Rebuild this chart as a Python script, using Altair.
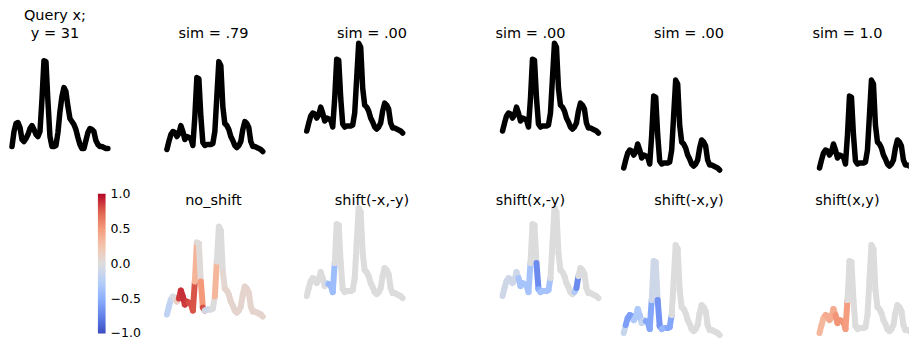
import altair as alt
import pandas as pd
import numpy as np

# ---- data ----
query = [5, 20, 28, 29, 24, 12, 10, 13, 17, 23, 26, 22, 17, 15, 20, 52, 91, 90, 50, 15,
         5, 5, 6, 19, 40, 55, 64, 60, 45, 33, 30, 27, 22, 14, 7, 3, 3, 11, 19, 23,
         22, 20, 11, 7, 5, 5, 4, 3, 3]
sample = [2, 10, 17, 20, 19, 15, 18, 26, 20, 12, 15, 14, 13, 6, 35, 74, 73, 35, 9, 6,
          7, 7, 7, 8, 20, 55, 90, 86, 45, 28, 26, 22, 15, 11, 6, 4, 6, 10, 22, 30,
          28, 24, 10, 5, 5, 4, 3, 2, 0]

top_titles = [["Query x;", "y = 31"], "sim = .79", "sim = .00", "sim = .00", "sim = .00", "sim = 1.0"]
bottom_titles = ["no_shift", "shift(-x,-y)", "shift(x,-y)", "shift(-x,y)", "shift(x,y)"]

# shift of the sample in each panel (time steps, value units)
shift_x = [0, -9.33, 9.33, -9.33, 9.33]
shift_y = [0, 18.5, 18.5, -18.5, -18.5]

sal_no_shift = [-0.2, -0.2, -0.15, -0.05, 0.0, 0.15, 0.85, 0.88, 0.88, 0.85,
                0.85, 0.8, 0.8, 0.78, 0.35, 0.02, 0.02, 0.5, 0.8, -0.08,
                -0.1, -0.1, -0.05, 0.0, 0.33, 0.0, 0.0, 0.0, 0.05, 0.08,
                0.08, 0.08, 0.08, 0.08, 0.08, 0.08, 0.08, 0.08, 0.08, 0.08,
                0.08, 0.08, 0.08, 0.08, 0.08, 0.08, 0.08, 0.08, 0.08]
sal_mxmy = [0, 0, 0, 0, 0, 0, 0, 0, 0, 0,
            -0.15, -0.45, -0.45, -0.4, 0, 0, 0, 0, 0, 0,
            0, 0, 0, 0, 0, 0, 0, 0, 0, 0,
            0, 0, 0, 0, 0, 0, 0, 0, 0, 0,
            0, 0, 0, 0, 0, 0, 0, 0, 0]
sal_pxmy = [-0.1, -0.1, -0.1, -0.1, -0.1, -0.1, -0.1, -0.1, -0.35, -0.35,
            -0.35, -0.35, -0.35, -0.35, 0, 0, 0, -0.7, -0.5, -0.35,
            -0.35, -0.35, -0.35, -0.35, 0, 0, 0, 0, 0, 0,
            0, 0, 0, 0, 0, 0, -0.3, -0.7, 0, 0,
            0, 0, 0, 0, 0, 0, 0, 0, 0]
sal_mxpy = [-0.15, -0.6, -0.6, -0.6, -0.6, -0.3, -0.3, -0.3, -0.3, -0.15,
            -0.15, -0.55, -0.55, -0.55, -0.1, -0.1, -0.1, -0.65, -0.65, -0.45,
            -0.45, -0.45, -0.55, -0.55, 0, 0, 0, 0, 0, 0,
            0, 0, 0, 0, 0, 0, 0, 0, 0, 0,
            0, 0, 0, 0, 0, 0, 0, 0, 0]
sal_pxpy = [0.33, 0.33, 0.33, 0.4, 0.4, 0.4, 0.4, 0.4, 0.52, 0.52,
            0.52, 0.52, 0.52, 0.48, 0, 0, 0, 0, 0, 0,
            0, 0, 0, 0, 0, 0, 0, 0, 0, 0,
            0, 0, 0, 0, 0, 0, 0, 0, 0, 0,
            0, 0, 0, 0, 0, 0, 0, 0, 0]
saliency = [sal_no_shift, sal_mxmy, sal_pxmy, sal_mxpy, sal_pxpy]

cw_domain = [-1, -0.75, -0.5, -0.25, 0, 0.25, 0.5, 0.75, 1]
cw_range = ["#3b4cc0", "#6282ea", "#8db0fe", "#b8d0f9", "#dddcdc",
            "#f5c4ac", "#f49a7b", "#de604d", "#b40426"]
# tick positions of the colour bar (ends nudged inward so labels centre on them)
legend_values = [-0.99, -0.5, 0, 0.5, 0.99]

# ---- layout ----
W = 92
W_LAST = 107.5
H = 137.5
X0 = 0.3
XDQ = [-1.5, 44.5]
YD = [-23, 114.5]
FONT = "DejaVu Sans"
TOP_OFFSET = -15
BOTTOM_OFFSET = -17


def xdom(width):
    return [X0, X0 + width / 2]


def ttl(text, offset, dx=0):
    return alt.TitleParams(text=text, anchor="middle", frame="group", baseline="alphabetic",
                           offset=offset, dx=dx, font=FONT, fontSize=14.5, fontWeight="normal",
                           color="black", lineHeight=17.4)


def top_panel(series, dx, dy, text, xd, width, clip):
    t = np.arange(len(series)) + dx
    v = np.asarray(series, dtype=float) + dy
    df = pd.DataFrame({"t": t, "v": v})
    return alt.Chart(df).mark_line(color="black", strokeWidth=5.5, strokeCap="round",
                                   strokeJoin="round", clip=clip).encode(
        x=alt.X("t:Q", scale=alt.Scale(domain=xd, nice=False, zero=False), axis=None),
        y=alt.Y("v:Q", scale=alt.Scale(domain=YD, nice=False, zero=False), axis=None),
    ).properties(width=width, height=H,
                 title=ttl(text, TOP_OFFSET, -(width - W) / 2))


def seg_frame(series, sal, dx, dy):
    t = np.arange(len(series)) + dx
    v = np.asarray(series, dtype=float) + dy
    return pd.DataFrame({"t": t[:-1], "t2": t[1:], "v": v[:-1], "v2": v[1:], "s": sal[:-1]})


def bottom_chart(df, width, clip, legend, opacity=1.0):
    return alt.Chart(df).mark_rule(strokeWidth=6, strokeCap="round", clip=clip,
                                   opacity=opacity).encode(
        x=alt.X("t:Q", scale=alt.Scale(domain=xdom(width), nice=False, zero=False), axis=None),
        x2="t2:Q",
        y=alt.Y("v:Q", scale=alt.Scale(domain=YD, nice=False, zero=False), axis=None),
        y2="v2:Q",
        color=alt.Color("s:Q", scale=alt.Scale(domain=cw_domain, range=cw_range,
                                              interpolate="rgb"), legend=legend),
    ).properties(width=width, height=H)


cells = [top_panel(query, 0, 0, top_titles[0], XDQ, W, False)]
for i in range(5):
    last = i == 4
    wd = W_LAST if last else W
    cells.append(top_panel(sample, shift_x[i], shift_y[i], top_titles[i + 1], xdom(wd), wd, last))

# colour bar cell (invisible marks carrying the legend)
cbar = alt.Legend(orient="none", legendX=89, legendY=-8.5, title=None,
                  direction="vertical", gradientLength=140, gradientThickness=7.7,
                  values=legend_values,
                  labelExpr="replace(format(datum.value, '.1f'), '-', '\u2212')",
                  labelFont=FONT, labelFontSize=12.5, labelColor="black",
                  labelOffset=5, padding=0, gradientStrokeWidth=0, labelOverlap=False)
cells.append(bottom_chart(seg_frame(sample, saliency[0], 0, 0), W, False, cbar, opacity=0))
for i in range(5):
    last = i == 4
    wd = W_LAST if last else W
    c = bottom_chart(seg_frame(sample, saliency[i], shift_x[i], shift_y[i]), wd, last, None)
    cells.append(c.properties(title=ttl(bottom_titles[i], BOTTOM_OFFSET, -(wd - W) / 2)))

chart = alt.concat(*cells, columns=6, spacing={"row": 27.2, "column": 66.67},
                   bounds="flush", align="each").resolve_scale(
    x="independent", y="independent", color="independent").resolve_legend(
    color="independent").properties(padding=0, background="white").configure_view(strokeWidth=0)

chart.save("out.html", embed_options={"renderer": "svg", "actions": False})
